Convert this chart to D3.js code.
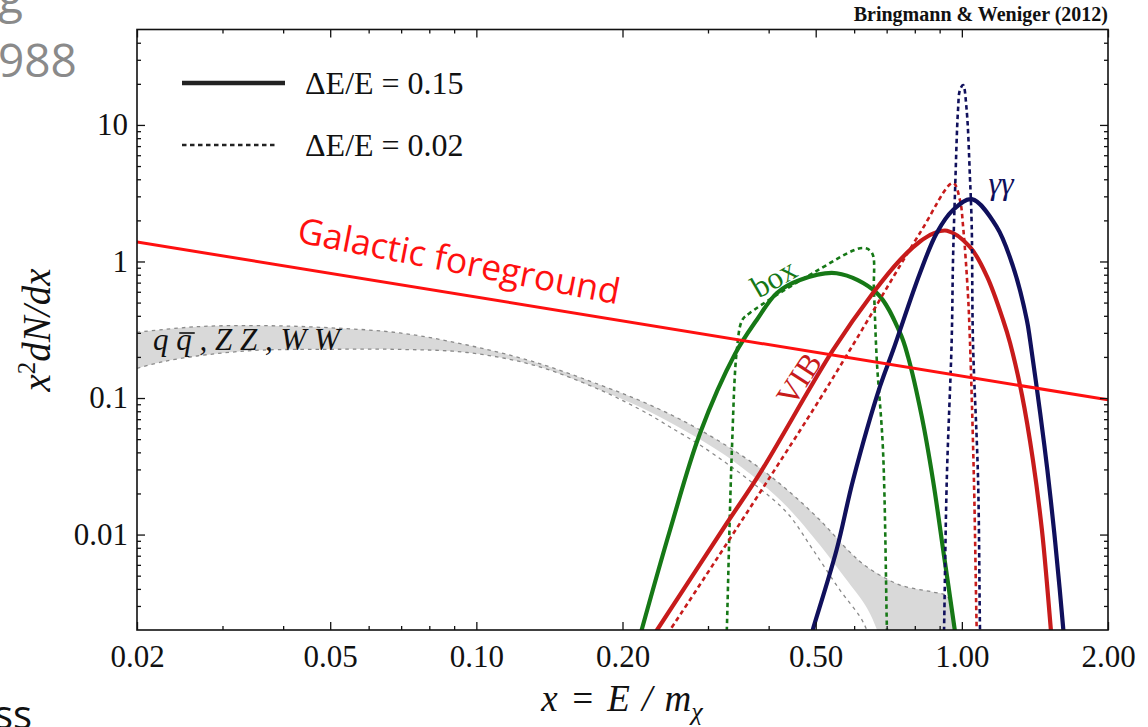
<!DOCTYPE html>
<html>
<head>
<meta charset="utf-8">
<script src="https://cdn.jsdelivr.net/npm/d3@7"></script>
<style>
  html, body { margin: 0; padding: 0; background: #fff; overflow: hidden; }
  svg { display: block; }
</style>
</head>
<body>
<svg id="chart" width="1148" height="727"></svg>
<script>
// ---- axis ticks ----
const xTicks = [0.02, 0.05, 0.1, 0.2, 0.5, 1, 2];
const xTickLabels = ["0.02", "0.05", "0.10", "0.20", "0.50", "1.00", "2.00"];
const xMinorTicks = [0.03, 0.04, 0.06, 0.07, 0.08, 0.09, 0.3, 0.4, 0.6, 0.7, 0.8, 0.9];
const yTicks = [0.01, 0.1, 1, 10];
const yTickLabels = ["0.01", "0.1", "1", "10"];
const yMinorTicks = [0.003, 0.004, 0.005, 0.006, 0.007, 0.008, 0.009,
                     0.02, 0.03, 0.04, 0.05, 0.06, 0.07, 0.08, 0.09,
                     0.2, 0.3, 0.4, 0.5, 0.6, 0.7, 0.8, 0.9,
                     2, 3, 4, 5, 6, 7, 8, 9, 20, 30, 40];

// ---- spectra x^2 dN/dx versus x = E/m ----
// Galactic foreground power law
const foreground = [[0.02, 1.39], [2.0, 0.097]];

// box spectrum, dE/E = 0.15
const boxWide = [
  [0.2153, 0.0016], [0.219, 0.002], [0.2506, 0.0108], [0.289, 0.0554], [0.341, 0.21],
  [0.378, 0.373], [0.416, 0.588], [0.464, 0.732], [0.552, 0.82], [0.668, 0.588],
  [0.746, 0.2995], [0.775, 0.1997], [0.827, 0.073], [0.872, 0.0251], [0.919, 0.00696],
  [0.968, 0.00195], [0.977, 0.0015]
];
// box spectrum, dE/E = 0.02
const boxNarrow = [
  [0.327, 0.0015], [0.328, 0.002], [0.336, 0.0416], [0.344, 0.2246], [0.353, 0.373],
  [0.366, 0.42], [0.494, 0.824], [0.626, 1.256], [0.653, 1.154], [0.659, 0.618],
  [0.668, 0.19], [0.688, 0.0416], [0.701, 0.002], [0.703, 0.0015]
];
// virtual internal bremsstrahlung, dE/E = 0.15
const vibWide = [
  [0.228, 0.00167], [0.2356, 0.002], [0.328, 0.0121], [0.384, 0.0282], [0.543, 0.225],
  [0.656, 0.588], [0.746, 1.026], [0.820, 1.40], [0.872, 1.60], [0.932, 1.68],
  [1.039, 1.28], [1.127, 0.774], [1.216, 0.373], [1.257, 0.253], [1.33, 0.1052],
  [1.401, 0.0351], [1.462, 0.0108], [1.497, 0.00442], [1.526, 0.00197], [1.545, 0.0013]
];
// virtual internal bremsstrahlung, dE/E = 0.02
const vibNarrow = [
  [0.242, 0.00167], [0.2506, 0.002], [0.479, 0.069], [0.588, 0.2246], [0.820, 1.62],
  [0.959, 3.76], [0.991, 2.82], [1.006, 1.80], [1.029, 0.588], [1.039, 0.266],
  [1.059, 0.0251], [1.073, 0.002], [1.076, 0.0015]
];
// gamma-gamma line, dE/E = 0.15
const gammaWide = [
  [0.486, 0.00167], [0.493, 0.002], [0.552, 0.0077], [0.597, 0.0251], [0.678, 0.121],
  [0.722, 0.2246], [0.820, 0.824], [0.888, 1.62], [0.959, 2.38], [1.048, 2.86],
  [1.179, 1.80], [1.275, 0.916], [1.361, 0.373], [1.382, 0.266], [1.45, 0.0773],
  [1.50, 0.0298], [1.55, 0.0103], [1.59, 0.00404], [1.616, 0.00212], [1.635, 0.0013]
];
// gamma-gamma line, dE/E = 0.02
const gammaNarrow = [
  [0.917, 0.0015], [0.919, 0.002], [0.931, 0.0251], [0.953, 0.266], [0.959, 1.026],
  [0.968, 3.18], [0.982, 12.88], [0.991, 18.05], [1.006, 19.6], [1.023, 12.88],
  [1.039, 4.18], [1.048, 1.80], [1.054, 0.266], [1.080, 0.0251], [1.09, 0.002],
  [1.093, 0.0015]
];
// continuum band for q qbar, ZZ, WW final states
const qqBandHigh = [
  [0.020, 0.303], [0.0266, 0.333], [0.0363, 0.339], [0.0499, 0.327], [0.0696, 0.2995],
  [0.0957, 0.2445], [0.131, 0.1845], [0.180, 0.1245], [0.228, 0.0889], [0.289, 0.0583],
  [0.371, 0.0334], [0.437, 0.0212], [0.510, 0.01277], [0.588, 0.00744], [0.638, 0.00578],
  [0.746, 0.00427], [0.872, 0.00379], [0.932, 0.00354], [0.959, 0.00257], [0.973, 0.00169]
];
const qqBandLow = [
  [0.020, 0.165], [0.0226, 0.1845], [0.0266, 0.2031], [0.0311, 0.2162], [0.0363, 0.2246],
  [0.0499, 0.2274], [0.0696, 0.227], [0.0957, 0.2154], [0.131, 0.1745], [0.180, 0.1145],
  [0.228, 0.0789], [0.318, 0.0402], [0.384, 0.02424], [0.437, 0.0159], [0.510, 0.00838],
  [0.575, 0.0048], [0.638, 0.00289], [0.669, 0.002], [0.685, 0.00155]
];
const qqLowerDash = [
  [0.020, 0.165], [0.0226, 0.1845], [0.0266, 0.2031], [0.0311, 0.2162], [0.0363, 0.2246],
  [0.0499, 0.2274], [0.0696, 0.227], [0.0957, 0.2154], [0.131, 0.1745], [0.180, 0.1145],
  [0.228, 0.0751], [0.2506, 0.0613], [0.293, 0.0438], [0.371, 0.02384], [0.437, 0.01437],
  [0.494, 0.0077], [0.561, 0.00392], [0.617, 0.0025], [0.637, 0.002], [0.653, 0.00155]
];

// ---- layout ----
const plotLeft = 137, plotRight = 1108, plotTop = 29.5, plotBottom = 630;
const serif = "'Liberation Serif', 'Times New Roman', serif";
const sans = "'Open Sans', 'Noto Sans', sans-serif";

const colGreen = "#167816";
const colVib = "#c71b1b";
const colNavy = "#10105c";
const colFg = "#ff1010";

const x = d3.scaleLog().domain([0.02, 2]).range([plotLeft, plotRight]);
const y = d3.scaleLog().domain([0.002, 50]).range([plotBottom, plotTop]);

const svg = d3.select("#chart");

// stray page text around the figure
svg.append("text").attr("x", -2).attr("y", 13).attr("font-family", sans)
  .attr("font-size", 46).attr("fill", "#8a8a8a").text("g");
svg.append("text").attr("x", -2).attr("y", 77).attr("font-family", sans)
  .attr("font-size", 46).attr("fill", "#8a8a8a").text("988");
svg.append("text").attr("x", -6).attr("y", 729).attr("font-family", sans)
  .attr("font-size", 40).attr("fill", "#111").text("ss");

svg.append("defs").append("clipPath").attr("id", "plotClip")
  .append("rect").attr("x", plotLeft).attr("y", plotTop)
  .attr("width", plotRight - plotLeft).attr("height", plotBottom - plotTop);

const plot = svg.append("g").attr("clip-path", "url(#plotClip)");

const smooth = d3.line().x(d => x(d[0])).y(d => y(d[1]))
  .curve(d3.curveCatmullRom.alpha(0.5));
const straight = d3.line().x(d => x(d[0])).y(d => y(d[1]));

// continuum band
const bandPath = smooth(qqBandHigh) +
  smooth(qqBandLow.slice().reverse()).replace(/^M/, "L") + "Z";
plot.append("path").attr("d", bandPath).attr("fill", "#d9d9d9").attr("stroke", "none");
[qqBandHigh, qqLowerDash].forEach(s => {
  plot.append("path").attr("d", smooth(s)).attr("fill", "none")
    .attr("stroke", "#8a8a8a").attr("stroke-width", 1.3).attr("stroke-dasharray", "3.5,4");
});

// signal spectra
const spectra = [
  { data: boxNarrow, color: colGreen, dashed: true },
  { data: boxWide, color: colGreen, dashed: false },
  { data: vibNarrow, color: colVib, dashed: true },
  { data: vibWide, color: colVib, dashed: false },
  { data: gammaNarrow, color: colNavy, dashed: true },
  { data: gammaWide, color: colNavy, dashed: false }
];
spectra.forEach(s => {
  plot.append("path").attr("d", smooth(s.data)).attr("fill", "none")
    .attr("stroke", s.color)
    .attr("stroke-width", s.dashed ? 2.6 : 4.2)
    .attr("stroke-dasharray", s.dashed ? "4.5,3.5" : null)
    .attr("stroke-linejoin", "round");
});

// foreground
plot.append("path").attr("d", straight(foreground)).attr("fill", "none")
  .attr("stroke", colFg).attr("stroke-width", 3);

// ---- axes (inward ticks on all four sides) ----
function styleAxis(g) {
  g.select(".domain").remove();
  g.attr("font-family", serif).attr("font-size", 31);
  g.selectAll(".tick line").attr("stroke", "#111").attr("stroke-width", 1.3);
  g.selectAll(".tick text").attr("fill", "#111");
}
svg.append("g").attr("transform", `translate(0,${plotBottom})`)
  .call(d3.axisBottom(x).tickValues(xTicks).tickFormat((d, i) => xTickLabels[i])
    .tickSizeInner(-8).tickSizeOuter(0).tickPadding(15)).call(styleAxis);
svg.append("g").attr("transform", `translate(0,${plotBottom})`)
  .call(d3.axisBottom(x).tickValues(xMinorTicks).tickFormat(() => "")
    .tickSizeInner(-4).tickSizeOuter(0)).call(styleAxis);
svg.append("g").attr("transform", `translate(0,${plotTop})`)
  .call(d3.axisTop(x).tickValues(xTicks).tickFormat(() => "")
    .tickSizeInner(-8).tickSizeOuter(0)).call(styleAxis);
svg.append("g").attr("transform", `translate(0,${plotTop})`)
  .call(d3.axisTop(x).tickValues(xMinorTicks).tickFormat(() => "")
    .tickSizeInner(-4).tickSizeOuter(0)).call(styleAxis);
svg.append("g").attr("transform", `translate(${plotLeft},0)`)
  .call(d3.axisLeft(y).tickValues(yTicks).tickFormat((d, i) => yTickLabels[i])
    .tickSizeInner(-8).tickSizeOuter(0).tickPadding(9)).call(styleAxis);
svg.append("g").attr("transform", `translate(${plotLeft},0)`)
  .call(d3.axisLeft(y).tickValues(yMinorTicks).tickFormat(() => "")
    .tickSizeInner(-4).tickSizeOuter(0)).call(styleAxis);
svg.append("g").attr("transform", `translate(${plotRight},0)`)
  .call(d3.axisRight(y).tickValues(yTicks).tickFormat(() => "")
    .tickSizeInner(-8).tickSizeOuter(0)).call(styleAxis);
svg.append("g").attr("transform", `translate(${plotRight},0)`)
  .call(d3.axisRight(y).tickValues(yMinorTicks).tickFormat(() => "")
    .tickSizeInner(-4).tickSizeOuter(0)).call(styleAxis);

svg.append("rect").attr("x", plotLeft).attr("y", plotTop)
  .attr("width", plotRight - plotLeft).attr("height", plotBottom - plotTop)
  .attr("fill", "none").attr("stroke", "#111").attr("stroke-width", 1.6);

// ---- axis titles ----
const xTitle = svg.append("text").attr("x", 622).attr("y", 711)
  .attr("text-anchor", "middle").attr("font-family", serif)
  .attr("font-style", "italic").attr("font-size", 37).attr("fill", "#111")
  .attr("word-spacing", 3);
xTitle.append("tspan").text("x = E / m");
xTitle.append("tspan").attr("font-size", 26).attr("dy", 9).text("χ");

const yTitle = svg.append("text").attr("transform", "translate(50,330) rotate(-90)")
  .attr("text-anchor", "middle").attr("font-family", serif)
  .attr("font-style", "italic").attr("font-size", 39).attr("fill", "#111");
yTitle.append("tspan").text("x");
yTitle.append("tspan").attr("font-size", 25).attr("dy", -15).attr("font-style", "normal").text("2");
yTitle.append("tspan").attr("dy", 15).text("dN/dx");

// ---- credit ----
svg.append("text").attr("x", plotRight).attr("y", 21).attr("text-anchor", "end")
  .attr("font-family", serif).attr("font-weight", "bold").attr("font-size", 20)
  .attr("fill", "#111").text("Bringmann & Weniger (2012)");

// ---- legend ----
const legendRows = [
  { label: "ΔE/E = 0.15", dashed: false, y: 83 },
  { label: "ΔE/E = 0.02", dashed: true, y: 145 }
];
legendRows.forEach(r => {
  svg.append("line").attr("x1", 182).attr("x2", r.dashed ? 278 : 285)
    .attr("y1", r.y).attr("y2", r.y).attr("stroke", "#222")
    .attr("stroke-width", r.dashed ? 2.6 : 4.5)
    .attr("stroke-dasharray", r.dashed ? "4.5,3.5" : null);
  svg.append("text").attr("x", 305).attr("y", r.y + 11).attr("font-family", serif)
    .attr("font-size", 32).attr("fill", "#111").text(r.label);
});

// ---- curve labels ----
svg.append("text").attr("transform", "translate(296,242) rotate(11)")
  .attr("font-family", sans).attr("font-size", 35.5).attr("fill", colFg)
  .text("Galactic foreground");

svg.append("text").attr("transform", "translate(779,287) rotate(-30)")
  .attr("text-anchor", "middle").attr("font-family", serif).attr("font-size", 31)
  .attr("fill", colGreen).text("box");

svg.append("text").attr("transform", "translate(808,385) rotate(-57)")
  .attr("text-anchor", "middle").attr("font-family", serif).attr("font-size", 32)
  .attr("fill", colVib).text("VIB");

svg.append("text").attr("x", 1001).attr("y", 194).attr("text-anchor", "middle")
  .attr("font-family", serif).attr("font-style", "italic").attr("font-size", 32)
  .attr("fill", colNavy).text("γγ");

const qqLabel = svg.append("text").attr("x", 153).attr("y", 350)
  .attr("font-family", serif).attr("font-style", "italic").attr("font-size", 31)
  .attr("fill", "#111").attr("xml:space", "preserve")
  .text("q q , Z Z , W W");
// bar over the antiquark symbol
const barredChar = qqLabel.node().getExtentOfChar(2);
svg.append("line")
  .attr("x1", barredChar.x + 3).attr("x2", barredChar.x + barredChar.width + 3)
  .attr("y1", 333).attr("y2", 333)
  .attr("stroke", "#111").attr("stroke-width", 1.6);
</script>
</body>
</html>
